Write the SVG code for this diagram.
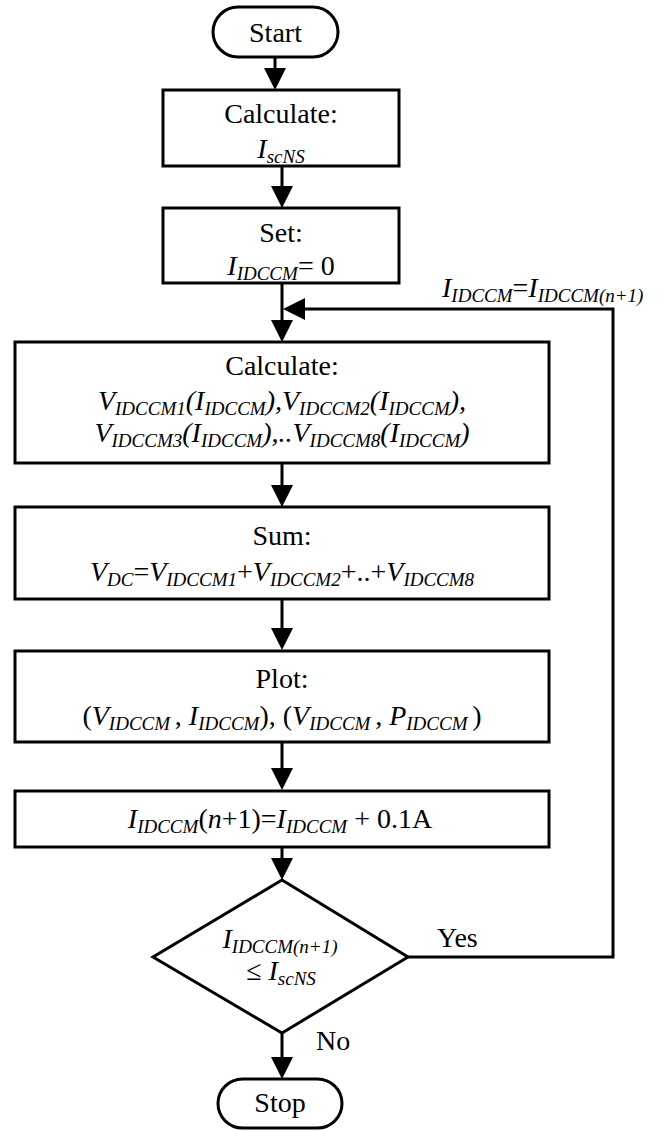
<svg xmlns="http://www.w3.org/2000/svg" width="662" height="1131" viewBox="0 0 662 1131">
<defs>
<style>
.t{font-family:"Liberation Serif","Times New Roman",serif;font-size:28px;fill:#000;text-anchor:middle}
.i{font-style:italic}
.s{font-size:19px}
.box{fill:#fff;stroke:#000;stroke-width:3}
.ln{fill:none;stroke:#000;stroke-width:3}
</style>
<marker id="ah" markerUnits="userSpaceOnUse" markerWidth="22" markerHeight="22" viewBox="0 0 22 22" refX="12" refY="11" orient="auto">
<path d="M0,0 L22,11 L0,22 z" fill="#000"/>
</marker>
</defs>
<rect width="662" height="1131" fill="#fff"/>

<g id="connectors">
<line class="ln" x1="275" y1="57" x2="275" y2="80" marker-end="url(#ah)"/>
<line class="ln" x1="282" y1="166" x2="282" y2="198" marker-end="url(#ah)"/>
<line class="ln" x1="282" y1="283" x2="282" y2="332" marker-end="url(#ah)"/>
<polyline class="ln" points="408,957 613,957 613,309 293,309" marker-end="url(#ah)"/>
<line class="ln" x1="282" y1="463" x2="282" y2="497" marker-end="url(#ah)"/>
<line class="ln" x1="282" y1="599" x2="282" y2="640" marker-end="url(#ah)"/>
<line class="ln" x1="282" y1="742" x2="282" y2="780" marker-end="url(#ah)"/>
<line class="ln" x1="282" y1="847" x2="282" y2="870" marker-end="url(#ah)"/>
<line class="ln" x1="282" y1="1033" x2="282" y2="1069" marker-end="url(#ah)"/>
<text class="t" x="442" y="297" style="text-anchor:start"><tspan class="i">I</tspan><tspan class="i s" dy="5">IDCCM</tspan><tspan dy="-5">=</tspan><tspan class="i">I</tspan><tspan class="i s" dy="5">IDCCM(n+1)</tspan></text>
<text class="t" x="437" y="947" style="text-anchor:start">Yes</text>
<text class="t" x="316" y="1050" style="text-anchor:start">No</text>
</g>

<g id="start">
<rect class="box" x="213" y="7" width="125" height="50" rx="25"/>
<text class="t" x="275.5" y="42">Start</text>
</g>

<g id="calc1">
<rect class="box" x="163" y="90" width="236" height="76"/>
<text class="t" x="281" y="123">Calculate:</text>
<text class="t" x="281" y="158"><tspan class="i">I</tspan><tspan class="i s" dy="5">scNS</tspan></text>
</g>

<g id="set">
<rect class="box" x="163" y="208" width="236" height="75"/>
<text class="t" x="281" y="242">Set:</text>
<text class="t" x="281" y="275"><tspan class="i">I</tspan><tspan class="i s" dy="5">IDCCM</tspan><tspan dy="-5">= 0</tspan></text>
</g>

<g id="calc2">
<rect class="box" x="15" y="342" width="534" height="121"/>
<text class="t" x="282" y="375">Calculate:</text>
<text class="t i" x="282" y="410">V<tspan class="s" dy="5">IDCCM1</tspan><tspan dy="-5">(I</tspan><tspan class="s" dy="5">IDCCM</tspan><tspan dy="-5">),V</tspan><tspan class="s" dy="5">IDCCM2</tspan><tspan dy="-5">(I</tspan><tspan class="s" dy="5">IDCCM</tspan><tspan dy="-5">),</tspan></text>
<text class="t i" x="282" y="442">V<tspan class="s" dy="5">IDCCM3</tspan><tspan dy="-5">(I</tspan><tspan class="s" dy="5">IDCCM</tspan><tspan dy="-5">),..V</tspan><tspan class="s" dy="5">IDCCM8</tspan><tspan dy="-5">(I</tspan><tspan class="s" dy="5">IDCCM</tspan><tspan dy="-5">)</tspan></text>
</g>

<g id="sum">
<rect class="box" x="15" y="507" width="534" height="92"/>
<text class="t" x="282" y="545">Sum:</text>
<text class="t" x="282" y="581"><tspan class="i">V</tspan><tspan class="i s" dy="5">DC</tspan><tspan dy="-5">=</tspan><tspan class="i">V</tspan><tspan class="i s" dy="5">IDCCM1</tspan><tspan dy="-5">+</tspan><tspan class="i">V</tspan><tspan class="i s" dy="5">IDCCM2</tspan><tspan dy="-5">+..+</tspan><tspan class="i">V</tspan><tspan class="i s" dy="5">IDCCM8</tspan></text>
</g>

<g id="plot">
<rect class="box" x="15" y="651" width="534" height="91"/>
<text class="t" x="282" y="688">Plot:</text>
<text class="t" x="282" y="725">(<tspan class="i">V</tspan><tspan class="i s" dy="5">IDCCM </tspan><tspan dy="-5">, </tspan><tspan class="i">I</tspan><tspan class="i s" dy="5">IDCCM</tspan><tspan dy="-5">), (</tspan><tspan class="i">V</tspan><tspan class="i s" dy="5">IDCCM </tspan><tspan dy="-5">, </tspan><tspan class="i">P</tspan><tspan class="i s" dy="5">IDCCM </tspan><tspan dy="-5">)</tspan></text>
</g>

<g id="increment">
<rect class="box" x="15" y="791" width="534" height="56"/>
<text class="t" x="280" y="828"><tspan class="i">I</tspan><tspan class="i s" dy="5">IDCCM</tspan><tspan dy="-5">(</tspan><tspan class="i">n</tspan><tspan>+1)=</tspan><tspan class="i">I</tspan><tspan class="i s" dy="5">IDCCM</tspan><tspan dy="-5"> + 0.1A</tspan></text>
</g>

<g id="decision">
<polygon class="box" points="282,880 408,957 282,1033 153,957"/>
<text class="t" x="280" y="948"><tspan class="i">I</tspan><tspan class="i s" dy="5">IDCCM(n+1)</tspan></text>
<text class="t" x="281" y="980">≤ <tspan class="i">I</tspan><tspan class="i s" dy="5">scNS</tspan></text>
</g>

<g id="stop">
<rect class="box" x="218" y="1079" width="124" height="49" rx="24.5"/>
<text class="t" x="280" y="1112">Stop</text>
</g>
</svg>
